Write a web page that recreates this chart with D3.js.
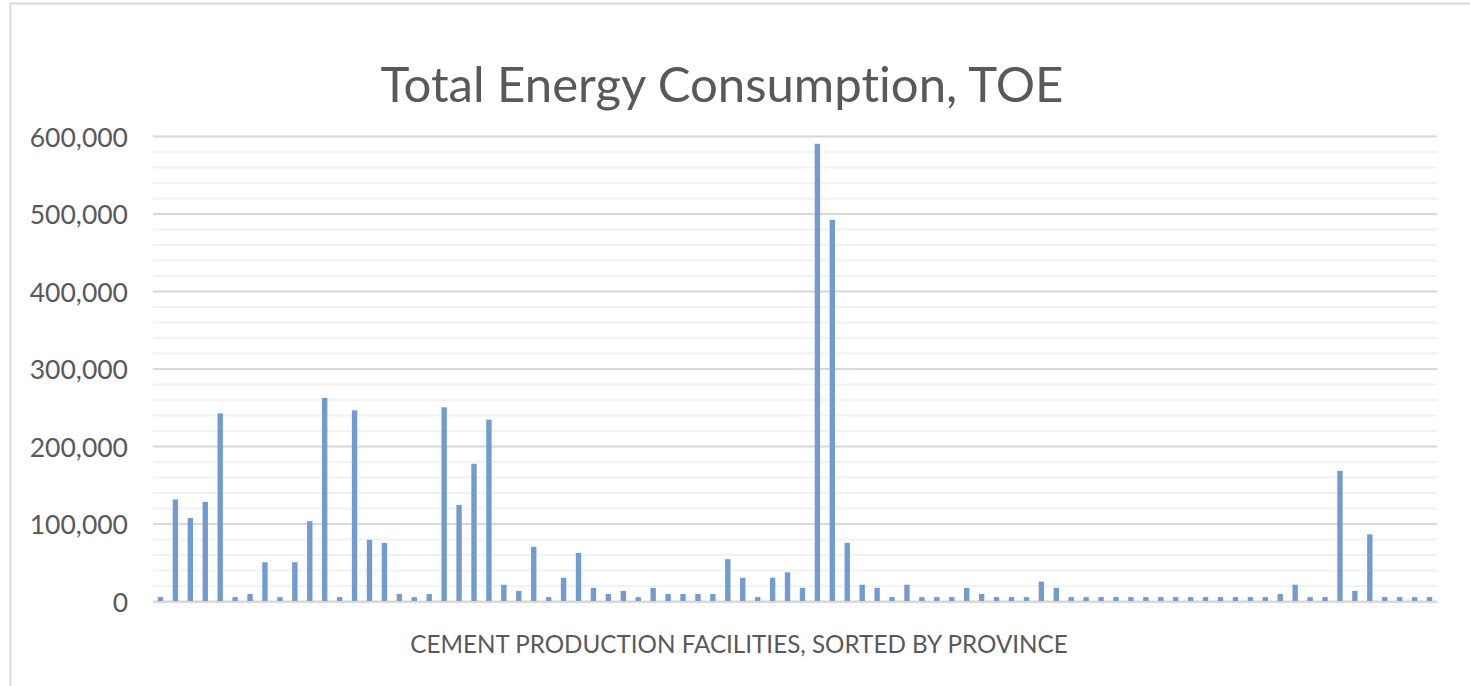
<!DOCTYPE html>
<html>
<head>
<meta charset="utf-8">
<script src="https://cdn.jsdelivr.net/npm/d3@7"></script>
<style>
  html, body { margin: 0; padding: 0; background: #fff; }
  svg { display: block; }
  text { font-family: Lato, "Open Sans", sans-serif; fill: #595959; font-variant-ligatures: none; }
</style>
</head>
<body>
<svg id="chart" width="1470" height="686"></svg>
<script>
// values, TOE per facility (left to right)
const consumption = [
  5000, 131000, 107000, 128000, 242000, 5000, 9000, 50000, 5000, 50000,
  103000, 262000, 5000, 246000, 79000, 75000, 9000, 5000, 9000, 250000,
  124000, 177000, 234000, 21000, 13000, 70000, 5000, 30000, 62000, 17000,
  9000, 13000, 5000, 17000, 9000, 9000, 9000, 9000, 54000, 30000,
  5000, 30000, 37000, 17000, 590000, 492000, 75000, 21000, 17000, 5000,
  21000, 5000, 5000, 5000, 17000, 9000, 5000, 5000, 5000, 25000,
  17000, 5000, 5000, 5000, 5000, 5000, 5000, 5000, 5000, 5000,
  5000, 5000, 5000, 5000, 5000, 9000, 21000, 5000, 5000, 168000,
  13000, 86000, 5000, 5000, 5000, 5000
];
const facilities = consumption.map((d, i) => "Facility " + (i + 1));
const majorTicks = [0, 100000, 200000, 300000, 400000, 500000, 600000];
const minorTicks = d3.range(0, 600001, 20000);

const chartTitle = "Total Energy Consumption, TOE";
const xTitle = "CEMENT PRODUCTION FACILITIES, SORTED BY PROVINCE";

const svg = d3.select("#chart");

// chart frame
svg.append("rect")
  .attr("x", 10.5).attr("y", 3.5)
  .attr("width", 1500).attr("height", 720)
  .attr("fill", "#fff")
  .attr("stroke", "#d9d9d9")
  .attr("stroke-width", 2);

const margin = { left: 153, right: 1437, top: 136, bottom: 601 };

const x = d3.scaleBand()
  .domain(facilities)
  .range([margin.left, margin.right])
  .paddingInner(0.64)
  .paddingOuter(0.32);

const y = d3.scaleLinear()
  .domain([0, 600000])
  .range([margin.bottom, margin.top]);

// minor grid
svg.append("g")
  .attr("transform", `translate(${margin.left},0)`)
  .call(d3.axisLeft(y).tickValues(minorTicks).tickSize(-(margin.right - margin.left)).tickFormat(""))
  .call(g => g.select(".domain").remove())
  .call(g => g.selectAll("line").attr("stroke", "#f2f2f2").attr("stroke-width", 2));

// major grid
svg.append("g")
  .attr("transform", `translate(${margin.left},0)`)
  .call(d3.axisLeft(y).tickValues(majorTicks).tickSize(-(margin.right - margin.left)).tickFormat(""))
  .call(g => g.select(".domain").remove())
  .call(g => g.selectAll("line").attr("stroke", "#d9d9d9").attr("stroke-width", 2));

// y labels
svg.append("g")
  .attr("transform", `translate(${margin.left},0)`)
  .call(d3.axisLeft(y).tickValues(majorTicks).tickSize(0).tickPadding(25).tickFormat(d3.format(",")))
  .call(g => g.select(".domain").remove())
  .call(g => g.selectAll("text")
    .attr("font-size", 26.5)
    .attr("dy", "0.38em")
    .attr("fill", "#595959")
    .style("font-family", "Lato, 'Open Sans', sans-serif"));

// bars
svg.append("g")
  .selectAll("rect")
  .data(consumption)
  .join("rect")
    .attr("x", (d, i) => x(facilities[i]))
    .attr("y", d => y(d))
    .attr("width", x.bandwidth())
    .attr("height", d => y(0) - y(d))
    .attr("fill", "#729bd0");

// zero line on top
svg.append("line")
  .attr("x1", margin.left).attr("x2", margin.right)
  .attr("y1", y(0) + 1).attr("y2", y(0) + 1)
  .attr("stroke", "#d9d9d9").attr("stroke-width", 2);

function fitText(sel, width) {
  const w = sel.node().getComputedTextLength();
  const fs = parseFloat(sel.attr("font-size"));
  sel.attr("font-size", fs * width / w);
}

const t = svg.append("text")
  .attr("x", 722).attr("y", 102)
  .attr("text-anchor", "middle")
  .attr("font-size", 46)
  .attr("font-weight", 400)
  .text(chartTitle);
fitText(t, 683);

const xt = svg.append("text")
  .attr("x", 739).attr("y", 653)
  .attr("text-anchor", "middle")
  .attr("font-size", 22)
  .text(xTitle);
fitText(xt, 658);
</script>
</body>
</html>
